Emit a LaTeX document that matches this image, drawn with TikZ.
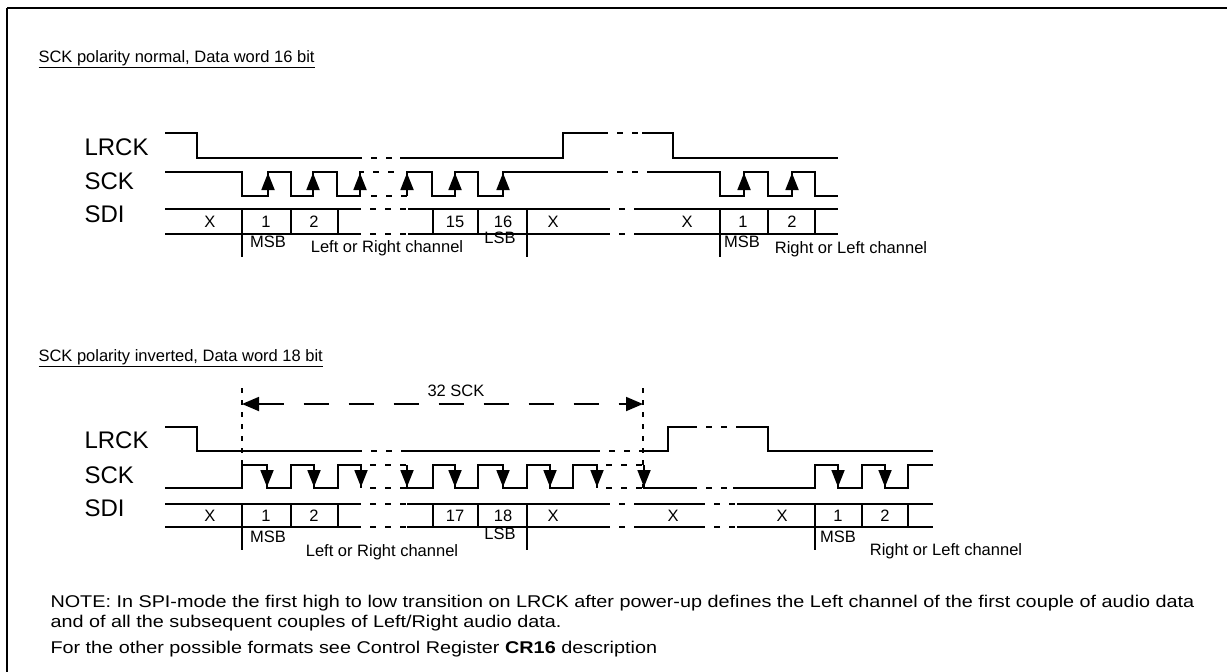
\documentclass[tikz,border=0pt]{standalone}
\usepackage{fontspec}
\setmainfont{Liberation Sans}
\usetikzlibrary{arrows.meta}

\tikzset{
	sig/.style={line width=1.8pt},
	brk/.style={line width=1.8pt, dash pattern=on 6pt off 9pt, dash phase=6pt},
	up/.style={line width=1.8pt, -{Triangle[length=17pt,width=13pt]}},
	dn/.style={line width=1.8pt, -{Triangle[length=17pt,width=13pt]}},
	guide/.style={line width=1.5pt, dash pattern=on 5pt off 7pt},
	span/.style={line width=1.8pt, dash pattern=on 25pt off 20pt, {Triangle[length=17pt,width=14pt]}-{Triangle[length=17pt,width=14pt]}},
	siglbl/.style={font=\fontsize{24}{28}\selectfont, anchor=west},
	cell/.style={font=\fontsize{16.5}{19}\selectfont},
	head/.style={font=\fontsize{16.5}{20}\selectfont, anchor=base west},
	note/.style={font=\fontsize{17}{20}\selectfont, anchor=base west}
}
\newcommand{\notetext}[1]{\scalebox{1.165}[1]{#1}}

\begin{document}
\begin{tikzpicture}[x=1pt,y=-1pt]
		\useasboundingbox (0,0) rectangle (1227,672);
		
		% frame
		\draw[line width=2.4pt] (7,8) -- (1227,8);
		\draw[line width=2pt] (7,8) -- (7,672);
		
		%%%%% SCK polarity normal
		\node[head] (head1) at (35,62) {\underline{SCK polarity normal, Data word 16 bit}};
		
		\node[siglbl] (lrck1) at (81,147) {LRCK};
		\node[siglbl] (sck1) at (81,181) {SCK};
		\node[siglbl] (sdi1) at (81,214) {SDI};
		
		% LRCK
		\draw[sig] (165,133) -- (197,133) -- (197,158) -- (362,158);
		\draw[brk] (362,158) -- (400,158);
		\draw[sig] (400,158) -- (563,158) -- (563,133) -- (608,133);
		\draw[brk] (608,133) -- (642,133);
		\draw[sig] (642,133) -- (673,133) -- (673,158) -- (838,158);
		
		% SCK
		\draw[sig] (165,172) -- (242,172) -- (242,196) -- (268,196) -- (268,172) -- (291,172) -- (291,196) -- (313,196) -- (313,172) -- (337,172) -- (337,196) -- (360,196) -- (360,172) -- (364,172);
		\draw[brk] (364,172) -- (400,172);
		\draw[brk] (362,196) -- (407,196);
		\draw[sig] (407,196) -- (407,172) -- (432,172) -- (432,196) -- (455,196) -- (455,172) -- (478,172) -- (478,196) -- (503,196) -- (503,172) -- (608,172);
		\draw[brk] (608,172) -- (647,172);
		\draw[sig] (647,172) -- (720,172) -- (720,196) -- (744,196) -- (744,172) -- (768,172) -- (768,196) -- (792,196) -- (792,172) -- (815,172) -- (815,196) -- (838,196);
		\foreach \x in {268,313,360,407,455,503,744,792}
			\draw[up] (\x,196) -- (\x,173);
		
		% SDI
		\draw[sig] (165,209) -- (361,209) (165,234) -- (361,234);
		\draw[brk] (361,209) -- (408,209) (361,234) -- (408,234);
		\draw[sig] (408,209) -- (610,209) (408,234) -- (610,234);
		\draw[brk] (610,209) -- (640,209) (610,234) -- (640,234);
		\draw[sig] (640,209) -- (838,209) (640,234) -- (838,234);
		\foreach \x in {291,338,433,478,768,815}
			\draw[sig] (\x,209) -- (\x,234);
		\foreach \x in {242,527,720}
			\draw[sig] (\x,209) -- (\x,257);
		
		\node[cell] (x1a) at (210,221.5) {X};
		\node[cell] (b1a) at (266,221.5) {1};
		\node[cell] (b2a) at (314,221.5) {2};
		\node[cell] (b15) at (455,221.5) {15};
		\node[cell] (b16) at (503,221.5) {16};
		\node[cell] (x1b) at (553,221.5) {X};
		\node[cell] (x1c) at (687,221.5) {X};
		\node[cell] (b1b) at (743,221.5) {1};
		\node[cell] (b2b) at (792,221.5) {2};
		
		\node[cell] (msb1) at (268,242) {MSB};
		\node[cell] (lsb1) at (500,238) {LSB};
		\node[cell] (ch1a) at (387,248) {Left or Right channel};
		\node[cell] (msb1b) at (742,242) {MSB};
		\node[cell] (ch1b) at (851,249) {Right or Left channel};
		
		%%%%% SCK polarity inverted
		\node[head] (head2) at (35,361) {\underline{SCK polarity inverted, Data word 18 bit}};
		
		\node[siglbl] (lrck2) at (81,440) {LRCK};
		\node[siglbl] (sck2) at (81,475) {SCK};
		\node[siglbl] (sdi2) at (81,508) {SDI};
		
		% 32 SCK
		\coordinate (t0) at (242,404);
		\coordinate (t1) at (643,404);
		\draw[guide] (242,388) -- (242,465);
		\draw[guide] (643,388) -- (643,488);
		\draw[span] (t0) -- (t1);
		\node[cell] (len) at (456,391) {32 SCK};
		
		% LRCK
		\draw[sig] (165,427) -- (197,427) -- (197,451) -- (362,451);
		\draw[brk] (362,451) -- (402,451);
		\draw[sig] (402,451) -- (600,451);
		\draw[brk] (600,451) -- (640,451);
		\draw[sig] (640,451) -- (668,451) -- (668,427) -- (697,427);
		\draw[brk] (697,427) -- (737,427);
		\draw[sig] (737,427) -- (768,427) -- (768,451) -- (933,451);
		
		% SCK
		\draw[sig] (165,488) -- (242,488) -- (242,465) -- (267,465) -- (267,488) -- (291,488) -- (291,465) -- (314,465) -- (314,488) -- (338,488) -- (338,465) -- (361,465) -- (361,488);
		\draw[brk] (361,465) -- (407,465) (361,488) -- (407,488);
		\draw[sig] (407,465) -- (407,488) -- (433,488) -- (433,465) -- (455,465) -- (455,488) -- (478,488) -- (478,465) -- (503,465) -- (503,488) -- (527,488) -- (527,465) -- (550,465) -- (550,488) -- (573,488) -- (573,465) -- (597,465) -- (597,488);
		\draw[brk] (597,465) -- (644,465) (597,488) -- (644,488);
		\draw[sig] (644,465) -- (644,488) -- (697,488);
		\draw[brk] (697,488) -- (733,488);
		\draw[sig] (733,488) -- (815,488) -- (815,465) -- (838,465) -- (838,488) -- (862,488) -- (862,465) -- (885,465) -- (885,488) -- (908,488) -- (908,465) -- (933,465);
		\foreach \x in {267,314,361,407,455,503,550,597,644,838,885}
			\draw[dn] (\x,465) -- (\x,487);
		
		% SDI
		\draw[sig] (165,504) -- (361,504) (165,527) -- (361,527);
		\draw[brk] (361,504) -- (407,504) (361,527) -- (407,527);
		\draw[sig] (407,504) -- (610,504) (407,527) -- (610,527);
		\draw[brk] (610,504) -- (640,504) (610,527) -- (640,527);
		\draw[sig] (640,504) -- (705,504) (640,527) -- (705,527);
		\draw[brk] (705,504) -- (737,504) (705,527) -- (737,527);
		\draw[sig] (737,504) -- (933,504) (737,527) -- (933,527);
		\foreach \x in {291,338,433,478,862,908}
			\draw[sig] (\x,504) -- (\x,527);
		\foreach \x in {242,527,815}
			\draw[sig] (\x,504) -- (\x,550);
		
		\node[cell] (x2a) at (210,515.5) {X};
		\node[cell] (c1a) at (266,515.5) {1};
		\node[cell] (c2a) at (314,515.5) {2};
		\node[cell] (c17) at (455,515.5) {17};
		\node[cell] (c18) at (503,515.5) {18};
		\node[cell] (x2b) at (553,515.5) {X};
		\node[cell] (x2c) at (673,515.5) {X};
		\node[cell] (x2d) at (782,515.5) {X};
		\node[cell] (c1b) at (838,515.5) {1};
		\node[cell] (c2b) at (885,515.5) {2};
		
		\node[cell] (msb2) at (268,537) {MSB};
		\node[cell] (lsb2) at (500,534) {LSB};
		\node[cell] (ch2a) at (382,552) {Left or Right channel};
		\node[cell] (msb2b) at (838,537) {MSB};
		\node[cell] (ch2b) at (946,551) {Right or Left channel};
		
		%%%%% note
		\node[note] (note1) at (47,607) {\notetext{NOTE: In SPI-mode the first high to low transition on LRCK after power-up defines the Left channel of the first couple of audio data}};
		\node[note] (note2) at (47,627) {\notetext{and of all the subsequent couples of Left/Right audio data.}};
		\node[note] (note3) at (47,653) {\notetext{For the other possible formats see Control Register \textbf{CR16} description}};
	\end{tikzpicture}
\end{document}
